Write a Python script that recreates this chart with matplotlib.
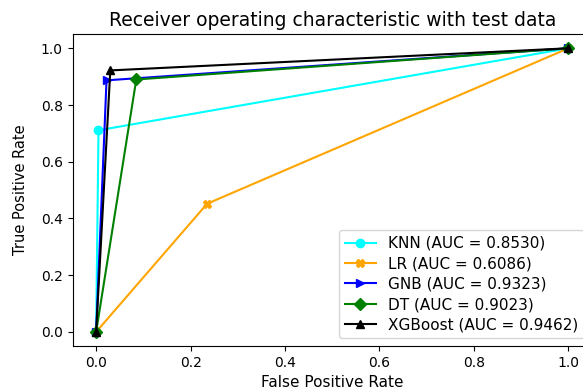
import matplotlib
matplotlib.use('Agg')
import matplotlib.pyplot as plt

models = ['KNN', 'LR', 'GNB', 'DT', 'XGBoost']
aucs = [0.8530, 0.6086, 0.9323, 0.9023, 0.9462]
fprs = [
    [0.0, 0.005, 1.0],
    [0.0, 0.235, 1.0],
    [0.0, 0.022, 1.0],
    [0.0, 0.085, 1.0],
    [0.0, 0.030, 1.0],
]
tprs = [
    [0.0, 0.711, 1.0],
    [0.0, 0.452, 1.0],
    [0.0, 0.887, 1.0],
    [0.0, 0.890, 1.0],
    [0.0, 0.922, 1.0],
]
colors = ['cyan', 'orange', 'blue', 'green', 'black']
markers = ['o', 'X', '>', 'D', '^']

fig = plt.figure(figsize=(5.83, 3.92), dpi=100)
# axes run past the right edge, as in the cropped original
ax = fig.add_axes([0.1244, 0.117, 0.891, 0.796])

for name, auc, fpr, tpr, c, m in zip(models, aucs, fprs, tprs, colors, markers):
    ax.plot(fpr, tpr, color=c, marker=m, label=f'{name} (AUC = {auc:.4f})')

ax.set_xlim(-0.05, 1.05)
ax.set_ylim(-0.05, 1.05)
ax.set_xlabel('False Positive Rate', fontsize=11)
ax.set_ylabel('True Positive Rate', fontsize=10.5, labelpad=9)
ax.set_title('Receiver operating characteristic with test data', fontsize=13.5)
ax.legend(loc='lower right', fontsize=11, labelspacing=0.35)

fig.savefig('out.png', dpi=100)
